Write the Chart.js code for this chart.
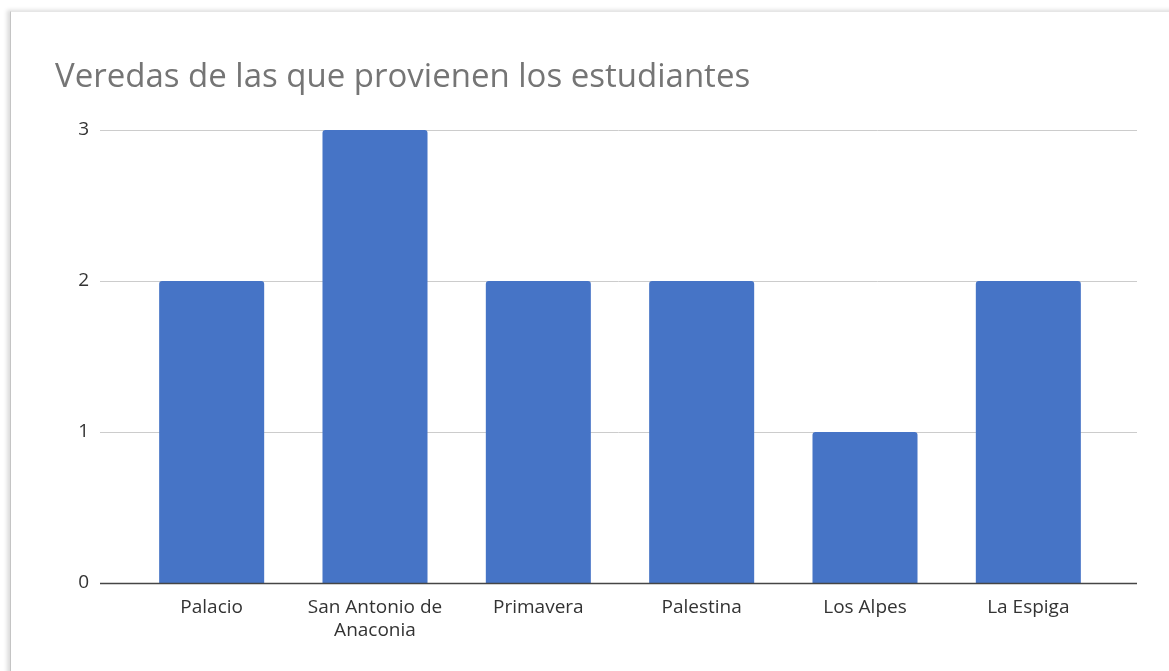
<!DOCTYPE html>
<html>
<head>
<meta charset="utf-8">
<script src="https://cdn.jsdelivr.net/npm/chart.js@4/dist/chart.umd.min.js"></script>
<style>
  html, body { margin: 0; padding: 0; background: #ffffff; overflow: hidden; }
  #card {
    position: absolute; left: 10px; top: 11px; width: 1170px; height: 670px;
    background: #fff;
    border-top: 1px solid #e6e6e6;
    border-left: 1px solid #c4c4c4;
    box-shadow: -3px -1px 4px rgba(0,0,0,0.14);
  }
  #wrap { position: absolute; left: 0; top: 0; width: 1169px; height: 671px; }
</style>
</head>
<body>
<div id="card"></div>
<div id="wrap"><canvas id="c" width="1169" height="671"></canvas></div>
<script>
// Veredas de origen y número de estudiantes
const categories = ["Palacio", ["San Antonio de", "Anaconia"], "Primavera", "Palestina", "Los Alpes", "La Espiga"];
const students = [2, 3, 2, 2, 1, 2];
const yTicks = [0, 1, 2, 3];

// Horizontal gridlines reach a bit past the bar area on both sides
const gridPlugin = {
  id: 'wideGrid',
  beforeDatasetsDraw(chart) {
    const { ctx, chartArea, scales } = chart;
    const y = scales.y;
    const x0 = chartArea.left - 30, x1 = chartArea.right + 27;
    ctx.save();
    ctx.strokeStyle = '#cccccc'; ctx.lineWidth = 1;
    yTicks.forEach(v => {
      if (v === 0) return;
      const py = Math.round(y.getPixelForValue(v)) + 0.5;
      ctx.beginPath();
      ctx.moveTo(x0, py); ctx.lineTo(x1, py); ctx.stroke();
    });
    ctx.restore();
  },
  afterDatasetsDraw(chart) {
    const { ctx, chartArea, scales } = chart;
    const py = Math.round(scales.y.getPixelForValue(0)) + 0.5;
    ctx.save();
    ctx.strokeStyle = '#454545'; ctx.lineWidth = 1.5;
    ctx.beginPath();
    ctx.moveTo(chartArea.left - 30, py); ctx.lineTo(chartArea.right + 27, py); ctx.stroke();
    ctx.restore();
  }
};

Chart.defaults.font.family = "'Open Sans', 'Noto Sans', sans-serif";

new Chart(document.getElementById('c'), {
  type: 'bar',
  data: {
    labels: categories,
    datasets: [{
      data: students,
      backgroundColor: '#4674c6',
      borderRadius: { topLeft: 3, topRight: 3 },
      borderSkipped: 'bottom',
      barPercentage: 1,
      categoryPercentage: 0.643
    }]
  },
  options: {
    responsive: false,
    animation: false,
    layout: { padding: { left: 55, right: 59, top: 0, bottom: 0 } },
    plugins: {
      legend: { display: false },
      tooltip: { enabled: false },
      title: {
        display: true,
        text: 'Veredas de las que provienen los estudiantes',
        align: 'start',
        color: '#757575',
        font: { size: 33, weight: 'normal', family: "'Open Sans', sans-serif" },
        padding: { top: 58, bottom: 32.4 },
        fullSize: true
      }
    },
    scales: {
      x: {
        afterFit(scale) { scale.height = 88; },
        grid: { display: false, drawTicks: false },
        border: { display: false },
        ticks: {
          color: '#333333',
          font: { size: 19 },
          padding: 13,
          maxRotation: 0,
          autoSkip: false
        }
      },
      y: {
        min: 0, max: 3,
        afterFit(scale) { scale.width = 75; },
        grid: { display: false },
        border: { display: false },
        ticks: {
          stepSize: 1,
          color: '#333333',
          font: { size: 19 },
          padding: 33
        }
      }
    }
  },
  plugins: [gridPlugin]
});
</script>
</body>
</html>
